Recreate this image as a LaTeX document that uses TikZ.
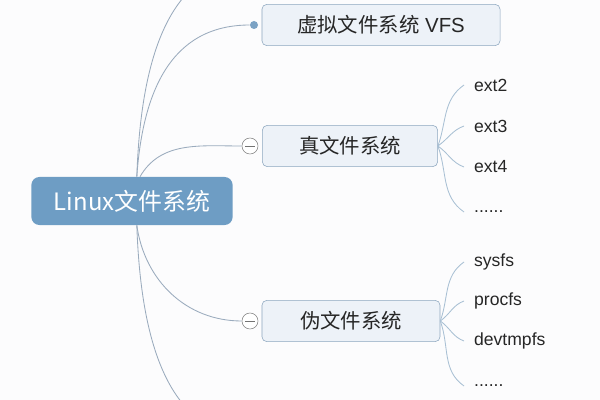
\documentclass[tikz,border=0pt]{standalone}
\usepackage{fontspec}
\setmainfont{Liberation Sans}
\newfontfamily\cjk{Noto Sans CJK SC}
\definecolor{rootblue}{HTML}{6E9DC4}
\definecolor{boxfill}{HTML}{EDF2F8}
\definecolor{boxline}{HTML}{8DA7BF}
\definecolor{maingray}{HTML}{9AABBD}
\definecolor{twigblue}{HTML}{A9C0D4}
\definecolor{dotblue}{HTML}{7BA2C4}
\definecolor{paper}{HTML}{FCFCFD}

\begin{document}
\begin{tikzpicture}[x=0.025cm,y=-0.025cm,
  rootbox/.style={fill=rootblue, rounded corners=0.2cm, text=white,
    minimum width=5.03cm, minimum height=1.2cm, font=\cjk\fontsize{17}{20}\selectfont},
  topicbox/.style={draw=boxline, fill=boxfill, rounded corners=0.12cm, text=black!85,
    minimum height=1.03cm, font=\fontsize{14.5}{17}\selectfont},
  foldmark/.style={circle, draw=black!50, fill=white, minimum size=0.4cm, inner sep=0pt,
    path picture={\draw[black!55, line width=0.6pt]
      ([xshift=-0.12cm]path picture bounding box.center) --
      ([xshift=0.12cm]path picture bounding box.center);}},
  joint/.style={circle, fill=dotblue, minimum size=0.2cm, inner sep=0pt},
  leafitem/.style={anchor=west, inner xsep=7pt, inner ysep=1pt, text=black!85,
    font=\fontsize{12.5}{15}\selectfont},
  mainlink/.style={draw=maingray, line width=0.6pt},
  sublink/.style={draw=twigblue, line width=0.6pt}]

\fill[paper] (0,0) rectangle (600,400);
\useasboundingbox (0,0) rectangle (600,400);
\clip (0,0) rectangle (600,400);

% topics
\node[rootbox](root) at (132,201){Linux文件系统};
\node[topicbox, minimum width=5.95cm](vfs) at (381,25){{\cjk 虚拟文件系统} VFS};
\node[topicbox, minimum width=4.38cm](real) at (350,146){\cjk 真文件系统};
\node[topicbox, minimum width=4.45cm](pseudo) at (351,321){\cjk 伪文件系统};

\node[joint](vfsdot) at (254,25){};
\node[foldmark](realfold) at (250,146){};
\node[foldmark](pseudofold) at (250,321){};

% branches leaving the picture
\coordinate(upper) at (254,-35);
\coordinate(lower) at (254,437);

\draw[mainlink] ([xshift=0.12cm]root.north) to[out=88,in=180] (upper);
\draw[mainlink] ([xshift=0.12cm]root.north) to[out=86,in=180,looseness=1.1] (vfsdot);
\draw[mainlink] ([xshift=0.2cm]root.north) to[out=60,in=180] (realfold.west);
\draw[mainlink] ([xshift=0.12cm]root.south) to[out=-82,in=180] (pseudofold.west);
\draw[mainlink] ([xshift=0.12cm]root.south) to[out=-88,in=180] (lower);

% real file systems
\node[leafitem](ext2) at (464,85){ext2};
\node[leafitem](ext3) at (464,126){ext3};
\node[leafitem](ext4) at (464,167){ext4};
\node[leafitem](realmore) at (464,212){......};
\draw[sublink] (real.east) to[out=70,in=215] (ext2.west);
\draw[sublink] (real.east) to[out=35,in=200] (ext3.west);
\draw[sublink] (real.east) to[out=-35,in=160] (ext4.west);
\draw[sublink] (real.east) to[out=-70,in=145] (realmore.west);

% pseudo file systems
\node[leafitem](sysfs) at (464,262){sysfs};
\node[leafitem](procfs) at (464,301){procfs};
\node[leafitem](devtmpfs) at (464,341){devtmpfs};
\node[leafitem](pseudomore) at (464,386){......};
\draw[sublink] (pseudo.east) to[out=70,in=215] (sysfs.west);
\draw[sublink] (pseudo.east) to[out=35,in=200] (procfs.west);
\draw[sublink] (pseudo.east) to[out=-35,in=160] (devtmpfs.west);
\draw[sublink] (pseudo.east) to[out=-70,in=145] (pseudomore.west);

\end{tikzpicture}
\end{document}
